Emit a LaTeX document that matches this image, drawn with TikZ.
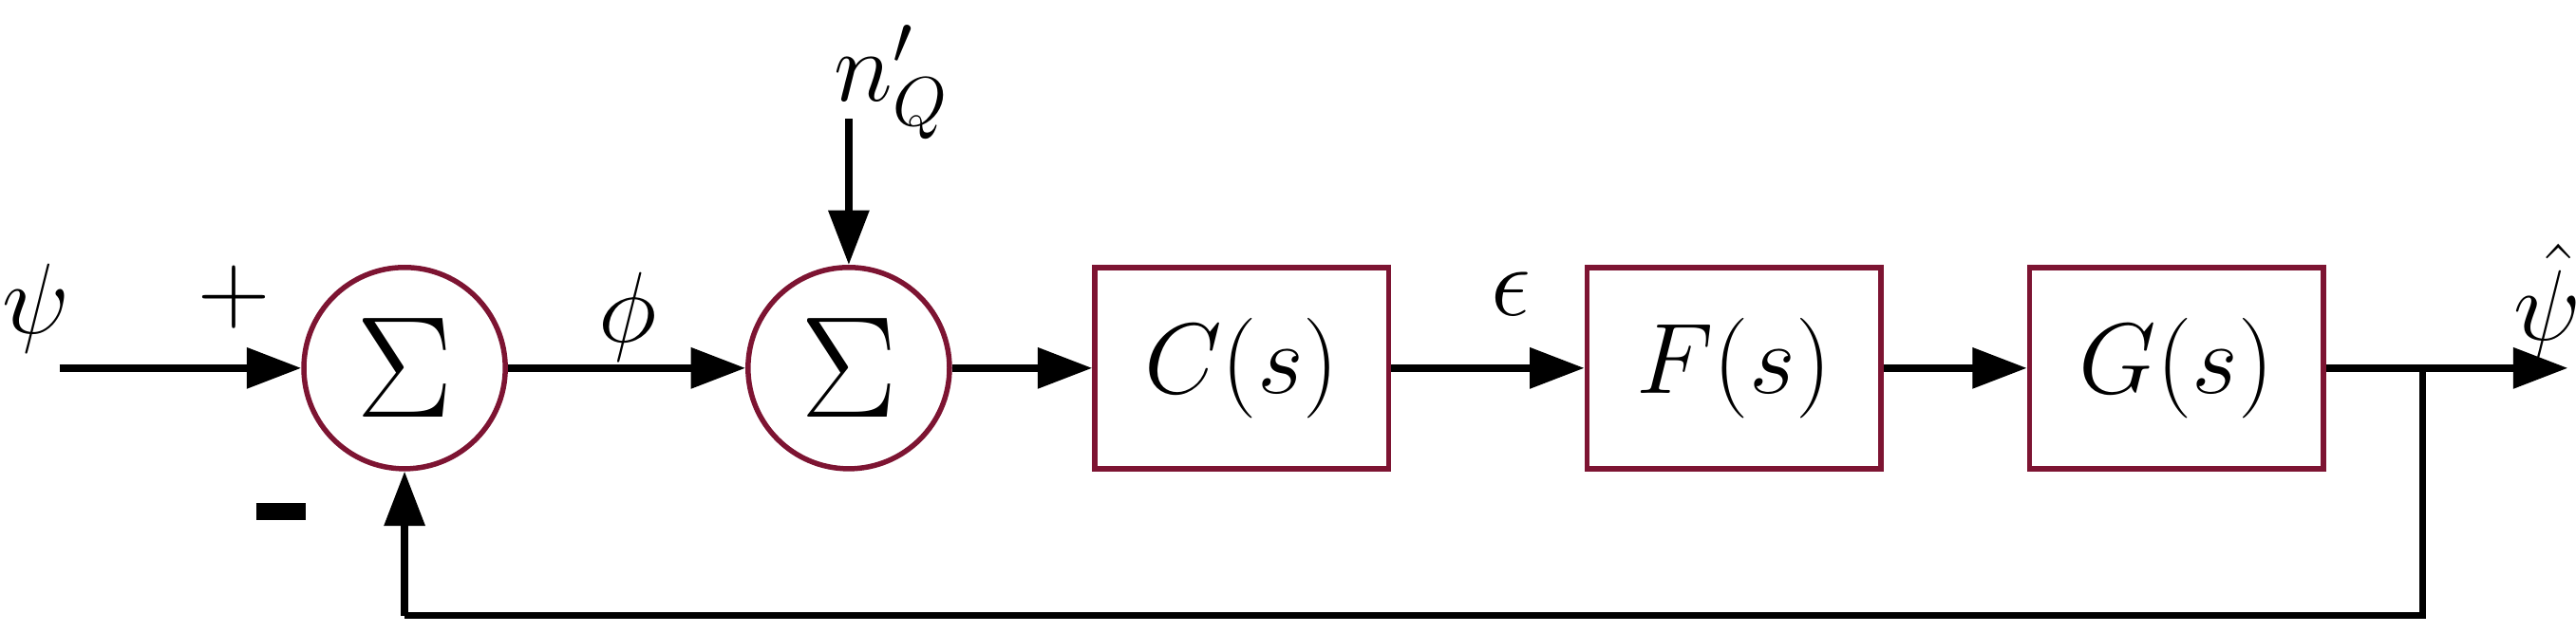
\documentclass[tikz,border=0pt]{standalone}
\usepackage{tikz}
\usetikzlibrary{positioning, shapes, arrows.meta}
\definecolor{blockborder}{RGB}{125,20,50}

\begin{document}
\begin{tikzpicture}
    [font=\LARGE,
    sum/.style={circle, draw=blockborder, line width=0.9pt, minimum size=12.2mm, inner sep=0pt, font=\Huge},
    block/.style={rectangle, draw=blockborder, line width=0.9pt, minimum width=17.8mm, minimum height=12.2mm},
    arrow/.style={line width=1.2pt, -{Triangle[length=3.3mm, width=2.4mm]}},
    line/.style={line width=1.2pt}]
    \useasboundingbox (0,0) rectangle (15.6,3.83);
    \coordinate (in) at (0.36,1.60);
    \node [sum] (sum_a) at (2.45,1.60) {$\Sigma$};
    \node [sum] (sum_b) at (5.14,1.60) {$\Sigma$};
    \node [block] (ctrl) at (7.52,1.60) {$C(s)$};
    \node [block] (filt) at (10.50,1.60) {$F(s)$};
    \node [block] (plant) at (13.18,1.60) {$G(s)$};
    \coordinate (out) at (15.55,1.60);
    \coordinate (branch) at (14.67,1.60);
    \coordinate (noise) at (5.14,3.11);
    \coordinate (loop_r) at (14.67,0.10);
    \coordinate (loop_l) at (2.45,0.10);

    \node (lbl_psi) at (0.22,1.96) {$\psi$};
    \node (lbl_plus) at (1.42,2.03) {$+$};
    \node (lbl_minus) at (1.70,0.73) {\rule{3mm}{1mm}};
    \node (lbl_phi) at (3.80,1.91) {$\phi$};
    \node (lbl_eps) at (9.15,2.05) {$\epsilon$};
    \node (lbl_hat) at (15.43,2.00) {$\hat{\psi}$};
    \node (lbl_noise) at (5.40,3.33) {$n'_Q$};

    \draw [arrow] (in) -- (sum_a);
    \draw [arrow] (sum_a) -- (sum_b);
    \draw [arrow] (noise) -- (sum_b);
    \draw [arrow] (sum_b) -- (ctrl);
    \draw [arrow] (ctrl) -- (filt);
    \draw [arrow] (filt) -- (plant);
    \draw [arrow] (plant) -- (out);
    \draw [line] (branch) -- (loop_r) -- (loop_l);
    \draw [arrow] (loop_l) -- (sum_a);
\end{tikzpicture}
\end{document}
